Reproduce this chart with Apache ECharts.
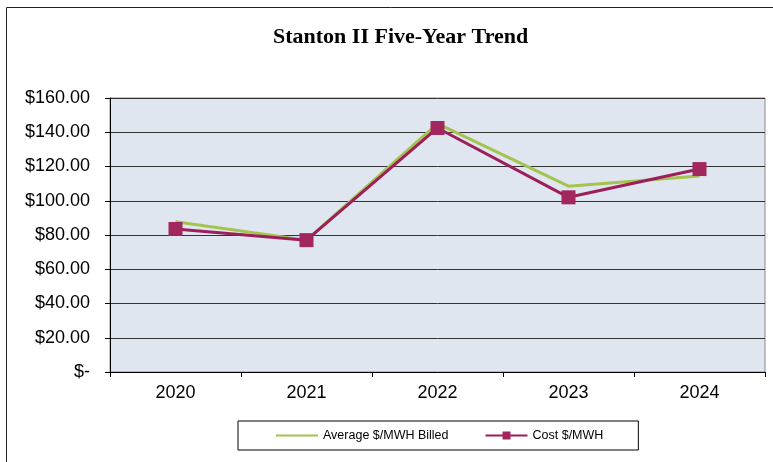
<!DOCTYPE html>
<html><head><meta charset="utf-8">
<script src="https://cdn.jsdelivr.net/npm/echarts@6/dist/echarts.min.js"></script>
<style>html,body{margin:0;padding:0;background:#fff}#c{width:773px;height:462px}</style>
</head><body><div id="c"></div>
<script>
const years = ['2020','2021','2022','2023','2024'];
const avgBilled = [87.8, 77.0, 145.0, 108.5, 114.5];
const costMWH = [83.5, 77.0, 142.5, 102.0, 118.5];
const chart = echarts.init(document.getElementById('c'));
chart.setOption({
  animation:false,
  backgroundColor:'#fff',
  graphic:[
    {type:'rect',shape:{x:6.5,y:7.5,width:780,height:470},style:{fill:'none',stroke:'#222',lineWidth:1}},
    {type:'text',left:273,top:26,style:{text:'Stanton II Five-Year Trend',fontFamily:'Liberation Serif',fontWeight:'bold',fontSize:22,fill:'#000'}}
  ],
  grid:{left:110,right:8,top:98,bottom:90,show:true,backgroundColor:'#dfe6ef',borderColor:'#888',borderWidth:1},
  xAxis:{type:'category',data:years,boundaryGap:true,
    axisLine:{lineStyle:{color:'#000',width:1}},
    axisTick:{show:true,length:5,lineStyle:{color:'#000'}},
    axisLabel:{fontFamily:'Liberation Sans',fontSize:18,color:'#000',margin:12}},
  yAxis:{type:'value',min:0,max:160,interval:20,
    axisLine:{show:true,lineStyle:{color:'#000'}},
    axisTick:{show:true,inside:false,length:5,lineStyle:{color:'#000'}},
    splitLine:{lineStyle:{color:'#333',width:1}},
    axisLabel:{fontFamily:'Liberation Sans',fontSize:18,color:'#000',margin:20,
      formatter:v=> v===0?'$-':'$'+v.toFixed(2)}},
  legend:{top:421,left:238,itemGap:36,itemWidth:42,itemHeight:10,
    borderColor:'#000',borderWidth:1,padding:[8,35,8,37],
    textStyle:{fontFamily:'Liberation Sans',fontSize:12.5,color:'#000'},
    data:[{name:'Average $/MWH Billed',itemStyle:{opacity:0}},{name:'Cost $/MWH',itemStyle:{borderWidth:0}}]},
  series:[
    {name:'Average $/MWH Billed',type:'line',data:avgBilled,symbol:'none',
      lineStyle:{color:'#a4c34f',width:3},itemStyle:{color:'#a4c34f'}},
    {name:'Cost $/MWH',type:'line',data:costMWH,symbol:'rect',symbolSize:14,
      lineStyle:{color:'#9c1f5a',width:3},itemStyle:{color:'#a3275f'}}
  ]
});
</script></body></html>
